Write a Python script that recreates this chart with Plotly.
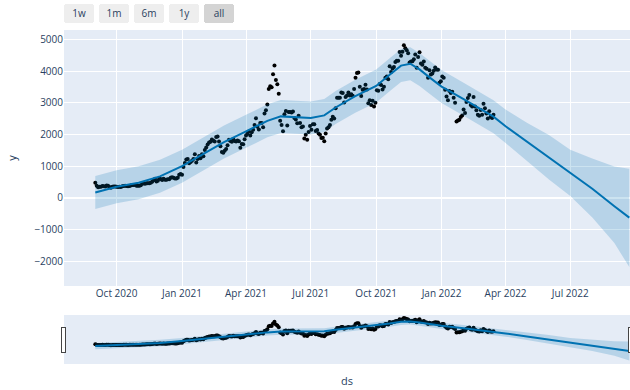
import pandas as pd
import plotly.graph_objects as go

# Observed daily closes, sampled every second day from 2020-09-01
actual_start = "2020-09-01"
actual_y = [
    # Sep 2020
    477, 385, 335, 353, 351, 374, 365, 364, 389, 385, 341, 321, 352, 357, 359,
    # Oct 2020
    353, 346, 352, 341, 366, 375, 381, 377, 368, 379, 392, 409, 406, 404, 387, 386,
    # Nov 2020
    383, 402, 454, 454, 450, 462, 461, 460, 479, 510, 560, 605, 519, 540, 616,
    # Dec 2020
    598, 569, 601, 573, 573, 585, 586, 636, 654, 638, 612, 612, 635, 731, 752,
    # Jan 2021
    730, 975, 1100, 1208, 1225, 1090, 1130, 1170, 1230, 1380, 1120, 1230, 1325, 1250, 1380, 1315,
    # Feb 2021
    1510, 1590, 1680, 1750, 1770, 1840, 1800, 1780, 1920, 1935, 1780, 1625, 1450, 1420,
    # Mar 2021
    1490, 1540, 1660, 1830, 1795, 1770, 1860, 1795, 1780, 1810, 1790, 1580, 1700, 1690, 1850,
    # Apr 2021
    1970, 2020, 2090, 1970, 2070, 2150, 2300, 2510, 2240, 2160, 2360, 2360, 2230, 2660, 2760,
    # May 2021
    2945, 3430, 3520, 3490, 3900, 4170, 3720, 3580, 3280, 2430, 2300, 2100, 2640, 2740, 2280, 2710,
    # Jun 2021
    2710, 2690, 2720, 2520, 2470, 2350, 2590, 2360, 2230, 2250, 1870, 1990, 1830, 2080, 2270,
    # Jul 2021
    2150, 2320, 2320, 2110, 2140, 2030, 1990, 1890, 1900, 1790, 2030, 2190, 2230, 2300, 2460,
    # Aug 2021
    2560, 2500, 2830, 3160, 3160, 3160, 3320, 3310, 3010, 3180, 3230, 3320, 3230, 3270, 3220, 3430,
    # Sep 2021
    3790, 3940, 3950, 3500, 3210, 3410, 3430, 3570, 3420, 2980, 3080, 2930, 3060, 2880, 3000,
    # Oct 2021
    3390, 3380, 3590, 3560, 3420, 3500, 3790, 3830, 3740, 4150, 3970, 4080, 4130, 4280, 4320,
    # Nov 2021
    4320, 4600, 4480, 4610, 4810, 4720, 4650, 4560, 4270, 4300, 4310, 4370, 4520, 4100, 4440,
    # Dec 2021
    4590, 4240, 4200, 4300, 4100, 4070, 3790, 4020, 3890, 3920, 4010, 4110, 4050, 4040, 3630, 3680,
    # Jan 2022
    3830, 3790, 3410, 3200, 3080, 3370, 3310, 3350, 3160, 3000, 2410, 2440, 2460, 2550, 2600,
    # Feb 2022
    2790, 2680, 3020, 3150, 3240, 2930, 2880, 3180, 2880, 2760, 2620, 2590, 2770, 2620,
    # Mar 2022
    2970, 2830, 2660, 2500, 2730, 2560, 2520, 2620,
]
actual_ds = pd.date_range(actual_start, periods=len(actual_y), freq="2D")

# Model fit and forecast
fcst_ds = [
    "2020-09-01", "2020-10-01", "2020-11-01", "2020-12-01", "2021-01-01",
    "2021-02-01", "2021-03-01", "2021-04-01", "2021-05-01", "2021-05-20",
    "2021-06-10", "2021-07-01", "2021-07-20", "2021-08-05", "2021-09-01",
    "2021-10-01", "2021-10-20", "2021-11-05", "2021-11-18", "2021-12-01",
    "2021-12-15", "2022-01-01", "2022-02-01", "2022-03-01", "2022-03-15",
    "2022-04-01", "2022-05-01", "2022-06-01", "2022-07-01", "2022-08-01",
    "2022-09-01", "2022-09-22",
]
yhat = [
    170, 350, 480, 680, 1000, 1400, 1760, 2100, 2430, 2570,
    2550, 2520, 2600, 2850, 3200, 3530, 3880, 4170, 4230, 4050,
    3800, 3510, 3110, 2740, 2560, 2260, 1770, 1280, 795, 290,
    -260, -620,
]
yhat_upper = [
    690, 870, 1000, 1200, 1520, 1920, 2280, 2620, 2950, 3090,
    3070, 3040, 3120, 3370, 3720, 4050, 4400, 4690, 4750, 4570,
    4320, 4030, 3630, 3260, 3080, 2790, 2370, 1980, 1520, 1240,
    990, 920,
]
yhat_lower = [
    -350, -170, -40, 160, 480, 880, 1240, 1580, 1910, 2050,
    2030, 2000, 2080, 2330, 2680, 3010, 3360, 3650, 3710, 3530,
    3280, 2990, 2590, 2220, 2040, 1730, 1170, 580, 60, -620,
    -1420, -2180,
]

actual_color = "black"
prediction_color = "#0072B2"
error_color = "rgba(0, 114, 178, 0.2)"

fig = go.Figure()
fig.add_trace(go.Scatter(
    name="Actual", x=actual_ds, y=actual_y, mode="markers",
    marker=dict(color=actual_color, size=4),
))
fig.add_trace(go.Scatter(
    x=fcst_ds, y=yhat_lower, mode="lines", line=dict(width=0),
    hoverinfo="skip",
))
fig.add_trace(go.Scatter(
    name="Predicted", x=fcst_ds, y=yhat, mode="lines",
    line=dict(color=prediction_color, width=2),
    fillcolor=error_color, fill="tonexty",
))
fig.add_trace(go.Scatter(
    x=fcst_ds, y=yhat_upper, mode="lines", line=dict(width=0),
    fillcolor=error_color, fill="tonexty", hoverinfo="skip",
))

fig.update_layout(
    template="plotly",
    showlegend=False,
    width=630, height=390,
    autosize=False,
    font=dict(size=10),
    margin=dict(l=64, r=0, t=30, b=26),
    yaxis=dict(title=dict(text="y", font=dict(size=11)), range=[-2775, 5292], dtick=1000),
    xaxis=dict(
        type="date",
        dtick="M3",
        tickformat="%b %Y",
        autorange=True,
        autorangeoptions=dict(include=["2020-07-19", "2022-09-23"]),
        rangeselector=dict(
            font=dict(size=10),
            buttons=[
                dict(count=7, label="1w", step="day", stepmode="backward"),
                dict(count=1, label="1m", step="month", stepmode="backward"),
                dict(count=6, label="6m", step="month", stepmode="backward"),
                dict(count=1, label="1y", step="year", stepmode="backward"),
                dict(step="all"),
            ]
        ),
        rangeslider=dict(visible=True, thickness=0.148),
    ),
    # x-axis title, placed beneath the range slider
    annotations=[dict(
        text="ds", xref="paper", yref="paper", x=0.5, y=0,
        xanchor="center", yanchor="middle", yshift=-94,
        showarrow=False, font=dict(size=11),
    )],
)

fig.write_html("out.html")
